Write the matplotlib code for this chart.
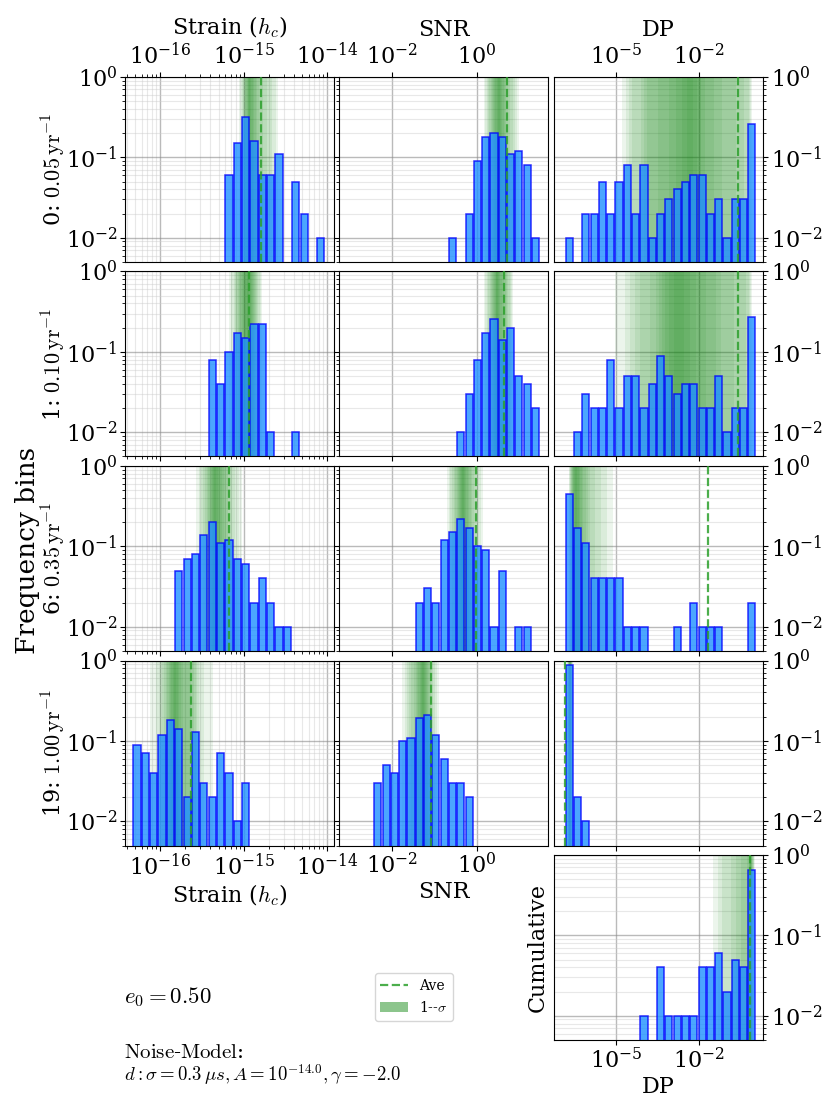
import numpy as np
import matplotlib
matplotlib.use('Agg')
import matplotlib.pyplot as plt
from matplotlib.ticker import FixedLocator, NullLocator, LogLocator, NullFormatter
from matplotlib.lines import Line2D
from matplotlib.patches import Patch

plt.rcParams['font.family'] = 'DejaVu Serif'
plt.rcParams['mathtext.fontset'] = 'cm'

# frequency bins shown (row labels)
freq_idx = [0, 1, 6, 19]
freq_vals = [0.05, 0.10, 0.35, 1.00]

# log10 bin grids for each column: first edge, bin width (decades)
strain_lo, strain_dw = -16.42, 0.1
snr_lo, snr_dw = -3.2, 0.1953
dp_lo, dp_dw = -6.82, 0.3

# histograms (fraction of realisations), first bin index + values
strain_start = [12, 10, 6, 1]
strain_hist = [
    [0.06, 0.15, 0.32, 0.16, 0.06, 0.06, 0.11, 0, 0.05, 0.02, 0, 0.01],
    [0.08, 0.04, 0.10, 0.17, 0.15, 0.22, 0.22, 0.01, 0, 0, 0.01],
    [0.05, 0.07, 0.08, 0.14, 0.20, 0.11, 0.12, 0.07, 0.06, 0.02, 0.04, 0.02, 0.01, 0.01],
    [0.09, 0.07, 0.04, 0.12, 0.18, 0.14, 0.02, 0.13, 0.03, 0.02, 0.07, 0.04, 0.01, 0.03],
]
strain_ave = [1.63e-15, 1.16e-15, 6.6e-16, 2.35e-16]

snr_start = [13, 14, 9, 4]
snr_hist = [
    [0.01, 0, 0.02, 0.09, 0.18, 0.20, 0.18, 0.11, 0.12, 0.08, 0.01],
    [0.01, 0.03, 0.08, 0.17, 0.26, 0.14, 0.20, 0.05, 0.04, 0.02],
    [0.02, 0.03, 0.02, 0.12, 0.15, 0.22, 0.17, 0.10, 0.09, 0.01, 0.05, 0, 0.01, 0.01],
    [0.03, 0.05, 0.04, 0.10, 0.11, 0.19, 0.21, 0.12, 0.06, 0.03, 0.03, 0.02],
]
snr_ave = [5.0, 4.3, 0.95, 0.081]

dp_start = [0, 1, 0, 0]
dp_hist = [
    [0.01, 0, 0.02, 0.02, 0.05, 0.02, 0.05, 0.08, 0.02, 0.08, 0.01, 0.02, 0.03, 0.04,
     0.05, 0.06, 0.06, 0.02, 0.03, 0.01, 0.03, 0.03, 0.26],
    [0.01, 0.03, 0.02, 0.02, 0.08, 0.02, 0.05, 0.05, 0.02, 0.04, 0.09, 0.05, 0.03, 0.04,
     0.04, 0.02, 0.02, 0.05, 0.01, 0.02, 0.02, 0.27],
    [0.45, 0.17, 0.11, 0.04, 0.04, 0.04, 0.04, 0.01, 0.01, 0.01, 0, 0, 0, 0.01, 0,
     0.02, 0.01, 0.01, 0.01, 0, 0, 0, 0.02],
    [0.87, 0.02, 0.01],
]
dp_ave = [0.26, 0.25, 0.0206, 1.45e-7]

cum_start = 9
cum_hist = [0.01, 0, 0.04, 0.01, 0.01, 0.01, 0.01, 0.04, 0.04, 0.06, 0.02, 0.05, 0.04, 0.66]
cum_ave = 0.7

W, H = 830, 1107
col_left = [125, 339, 554]
row_top = [77, 271.5, 466, 660.5, 855]
ax_w, ax_h = 209, 185
xlims = [(10**-16.42, 10**-13.92), (10**-3.247, 10**1.67), (10**-7.24, 10**0.31)]
xmajor = [[1e-16, 1e-15, 1e-14], [1e-2, 1e0], [1e-5, 1e-2]]

BAR_FC = '#1e90ff'
AVE_C = '#2ca02c'


def quantile_fn(lo, dw, start, vals):
    vals = np.asarray(vals, float)
    edges = lo + dw * (start + np.arange(len(vals) + 1))
    cum = np.concatenate([[0], np.cumsum(vals)]) / vals.sum()
    return lambda p: 10 ** np.interp(p, cum, edges)


def draw_panel(ax, col, lo, dw, start, vals, ave):
    vals = np.asarray(vals, float)
    k = start + np.arange(len(vals))
    left = 10 ** (lo + k * dw)
    right = 10 ** (lo + (k + 0.86) * dw)
    m = vals > 0
    ax.bar(left[m], vals[m], width=(right - left)[m], align='edge',
           color=BAR_FC, alpha=0.8, edgecolor='blue', linewidth=1.1, zorder=2)
    q = quantile_fn(lo, dw, start, vals)
    for p in np.linspace(0.34, 0.02, 12):
        ax.axvspan(q(0.5 - p), q(0.5 + p), color='green', alpha=0.075, lw=0, zorder=1)
    ax.axvline(ave, color=AVE_C, ls='--', lw=1.6, alpha=0.85, zorder=3)

    ax.set_xscale('log')
    ax.set_yscale('log')
    ax.set_xlim(*xlims[col])
    ax.set_ylim(5e-3, 1.0)
    ax.xaxis.set_major_locator(FixedLocator(xmajor[col]))
    if col == 0:
        ax.xaxis.set_minor_locator(LogLocator(base=10, subs=np.arange(2, 10)))
    else:
        ax.xaxis.set_minor_locator(NullLocator())
    ax.xaxis.set_minor_formatter(NullFormatter())
    ax.yaxis.set_minor_formatter(NullFormatter())
    ax.set_axisbelow(True)
    ax.grid(True, which='major', color='0.55', alpha=0.6, lw=1.0)
    ax.grid(True, which='minor', color='0.8', alpha=0.45, lw=0.8)
    ax.tick_params(which='both', labelsize=16, pad=2)


fig = plt.figure(figsize=(W / 100, H / 100), dpi=100)

cols = [
    (strain_lo, strain_dw, strain_start, strain_hist, strain_ave, r'Strain ($h_c$)'),
    (snr_lo, snr_dw, snr_start, snr_hist, snr_ave, 'SNR'),
    (dp_lo, dp_dw, dp_start, dp_hist, dp_ave, 'DP'),
]

for r in range(4):
    for c, (lo, dw, starts, hists, aves, name) in enumerate(cols):
        ax = fig.add_axes([col_left[c] / W, 1 - (row_top[r] + ax_h) / H, ax_w / W, ax_h / H])
        draw_panel(ax, c, lo, dw, starts[r], hists[r], aves[r])
        if r == 0:
            ax.xaxis.tick_top()
            ax.xaxis.set_label_position('top')
            ax.set_xlabel(name, fontsize=16, labelpad=6)
        elif r == 3 and c < 2:
            ax.set_xlabel(name, fontsize=16, labelpad=2)
        else:
            ax.tick_params(axis='x', labelbottom=False)
        if c == 0:
            ax.set_ylabel(f'{freq_idx[r]}: ${freq_vals[r]:.2f}\\,\\mathrm{{yr}}^{{-1}}$',
                          fontsize=16)
            ax.yaxis.set_label_coords((68 - col_left[0]) / ax_w, 0.5)
        elif c == 1:
            ax.tick_params(axis='y', labelleft=False)
        else:
            ax.yaxis.tick_right()

# cumulative panel
ax = fig.add_axes([col_left[2] / W, 1 - (row_top[4] + ax_h) / H, ax_w / W, ax_h / H])
draw_panel(ax, 2, dp_lo, dp_dw, cum_start, cum_hist, cum_ave)
ax.yaxis.tick_right()
ax.yaxis.set_label_position('left')
ax.set_ylabel('Cumulative', fontsize=16)
ax.set_xlabel('DP', fontsize=16, labelpad=2)

fig.text(28 / W, 0.503, 'Frequency bins', rotation=90, fontsize=19, ha='center', va='center')

fig.text(124 / W, 1 - 997 / H, r'$e_0 = 0.50$', fontsize=16.5, va='center')
fig.text(124 / W, 1 - 1052 / H, r'$\mathrm{Noise}$-$\mathrm{Model}$:', fontsize=15, va='center')
fig.text(124 / W, 1 - 1075 / H,
         r'$d: \sigma = 0.3\,\mu s, A = 10^{-14.0}, \gamma = -2.0$', fontsize=13.5, va='center')

handles = [Line2D([], [], color=AVE_C, ls='--', lw=1.6, alpha=0.85, label='Ave'),
           Patch(facecolor='green', alpha=0.45, label=r'1--$\sigma$')]
fig.legend(handles=handles, loc='center', bbox_to_anchor=(414 / W, 1 - 997 / H),
           fontsize=10)

fig.savefig('out.png', dpi=100)
